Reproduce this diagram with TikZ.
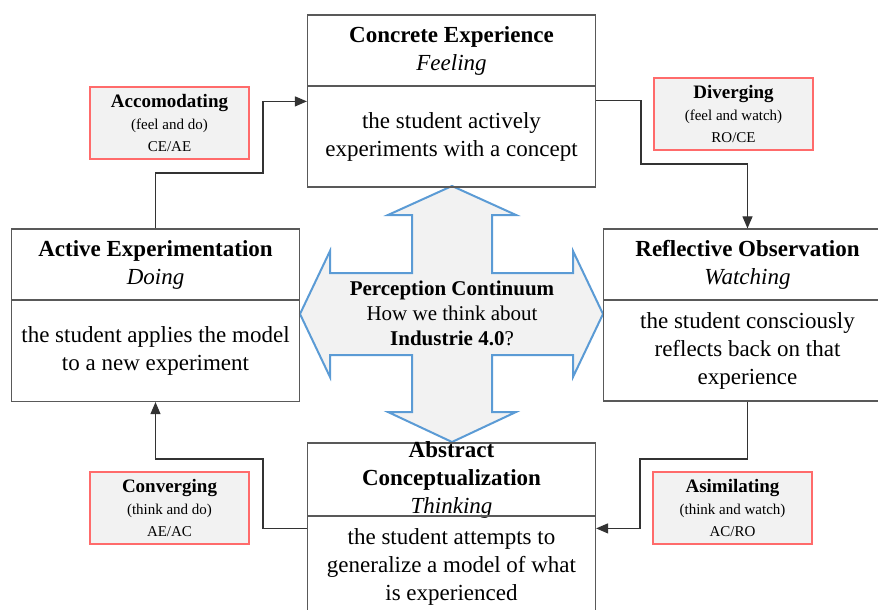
\documentclass[tikz,border=0pt]{standalone}
\usepackage{fontspec}
\setmainfont{Liberation Serif}
\usetikzlibrary{calc, arrows.meta}

\definecolor{boxline}{HTML}{595959}
\definecolor{tagred}{HTML}{FF6B6B}
\definecolor{tagfill}{HTML}{F2F2F2}
\definecolor{crossblue}{HTML}{5B9BD5}

\tikzset{
	stage/.style={draw=boxline, line width=1.2pt, minimum width=288pt, inner sep=0pt, align=center, font=\fontsize{23}{28}\selectfont},
	head/.style={stage, minimum height=71pt},
	body/.style={stage, minimum height=101pt},
	tag/.style={draw=tagred, fill=tagfill, line width=1.2pt, minimum width=159pt, minimum height=72pt, inner sep=0pt, align=center, font=\fontsize{15}{22}\selectfont},
	flow/.style={draw=black!80, line width=1.1pt, -{Triangle[length=12pt,width=10pt]}}
}

\newcommand{\tagtitle}[1]{\textbf{\fontsize{19}{22}\selectfont #1}}

\begin{document}
\begin{tikzpicture}[x=1pt, y=-1pt]
	\useasboundingbox (0,0) rectangle (878,610);

	\begin{scope}
		\draw[crossblue, fill=tagfill, line width=2pt, line join=miter]
			(452,186) -- (516,215) -- (492,215) -- (492,273) -- (573,273) -- (573,251) -- (603,314)
			-- (573,377) -- (573,355) -- (492,355) -- (492,412) -- (516,412) -- (452,442)
			-- (388,412) -- (412,412) -- (412,355) -- (330,355) -- (330,377) -- (300,314)
			-- (330,251) -- (330,273) -- (412,273) -- (412,215) -- (388,215) -- cycle;
		\node[align=center, font=\fontsize{21}{25}\selectfont] (hub) at (452,313)
			{\textbf{Perception Continuum}\\How we think about\\\textbf{Industrie 4.0}?};
	\end{scope}

	\begin{scope}
		\node[head] (ceHead) at (451.5,50.5) {\textbf{Concrete Experience}\\\textit{Feeling}};
		\node[body] (ceBody) at (451.5,136.5) {the student actively\\experiments with a concept};

		\node[head] (roHead) at (747.5,264.5) {\textbf{Reflective Observation}\\\textit{Watching}};
		\node[body] (roBody) at (747.5,350.5) {the student consciously\\reflects back on that\\experience};

		\node[head, minimum height=73pt, inner ysep=-2pt] (acHead) at (451.5,479.5) {\textbf{Abstract}\\\textbf{Conceptualization}\\\textit{Thinking}};
		\node[body] (acBody) at (451.5,566.5) {the student attempts to\\generalize a model of what\\is experienced};

		\node[head] (aeHead) at (155.5,264.5) {\textbf{Active Experimentation}\\\textit{Doing}};
		\node[body] (aeBody) at (155.5,351) {the student applies the model\\to a new experiment};
	\end{scope}

	\begin{scope}
		\node[tag] (accTag) at (169.5,123) {\tagtitle{Accomodating}\\(feel and do)\\CE/AE};
		\node[tag] (divTag) at (733.5,114) {\tagtitle{Diverging}\\(feel and watch)\\RO/CE};
		\node[tag] (conTag) at (169.5,508) {\tagtitle{Converging}\\(think and do)\\AE/AC};
		\node[tag] (asiTag) at (732.5,508) {\tagtitle{Asimilating}\\(think and watch)\\AC/RO};
	\end{scope}

	\begin{scope}[flow]
		\draw (aeHead.north) |- (263,173) |- ($(ceBody.north west)+(0,16)$);
		\draw ($(ceBody.north east)+(0,15)$) -| (641,164) -| (roHead.north);
		\draw (roBody.south) |- (640,459) |- ($(acBody.north east)+(0,13)$);
		\draw ($(acBody.north west)+(0,13)$) -| (263,459) -| (aeBody.south);
	\end{scope}
\end{tikzpicture}
\end{document}
